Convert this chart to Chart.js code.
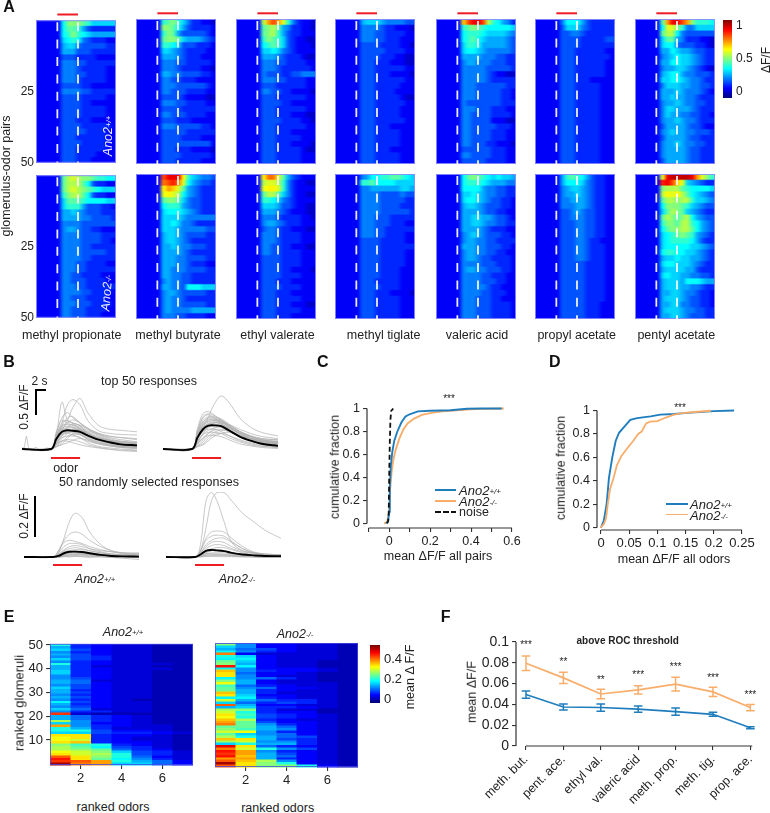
<!DOCTYPE html>
<html><head><meta charset="utf-8">
<script src="https://cdn.jsdelivr.net/npm/chart.js@4"></script>
<style>
html,body{margin:0;padding:0;background:#fff}
#page{position:relative;width:770px;height:813px;overflow:hidden;font-family:Arial,"Liberation Sans",sans-serif;color:#222}
canvas{position:absolute;display:block}
.t{position:absolute;white-space:nowrap;line-height:1;transform-origin:center}
.t sup{font-size:.62em;position:relative;top:-.1em;vertical-align:baseline;line-height:0}
.r{position:absolute}
</style></head><body><div id="page"></div>
<script>
// ---------- Panel A: heat-map rows (ΔF/F in steps of 0.05, base-36 digit; each row = 2 pairs; the 5 bins before onset are at baseline)
const wtMethylPropionate=["7aaa9866666","79985322222","78a87655555","67874322211","56643333322","55533322222","33322221111","44433222222","44432222211","44433222211","44432222211","33332211111","44443322222","33332222211","33332211111","33332222211","33332222211","33322211111","33332222221","33333222211","33322222211","33332222211","33322222211","33322221111","33322211111"];
const wtMethylButyrate=["89a86422110","aa975322221","8a953333321","9aa96555432","88763332221","66543222211","55543222111","44433222221","44432222110","55443333221","44332221111","44433333321","44333222211","33332111100","44433222211","33332222222","44333222211","33322211111","44433333221","33333222222","33332222111","33333333331","33322211110","33332222221","33322222111"];
const wtEthylValerate=["bfhfc842110","9ab95422110","9ab85322111","8a986321100","78986321110","66764321111","55543222100","44433222211","44432222221","43332233444","44433222211","33322222211","44332211110","33322222211","33332211111","33322222211","33322211100","33332222110","33322222211","33322211111","33322222111","33322211110","33322222100","33322222111","33322222111"];
const wtMethylTiglate=["56665444433","44443221110","44433222211","44433222111","33332222110","33333222211","33332221100","33322211100","33322222211","33322211110","33322222211","33322222111","33322221111","33322222100","33322222211","33322222111","33322222111","33322222211","33322211111","33322222111","33322222111","33322222111","33322211111","33322222111","33322222111"];
const wtValericAcid=["ehjjhb87542","89a98777776","78887666654","78976555543","68875555543","67765444443","55554443322","45544433322","44444333332","44444321100","44444322222","44433333322","44433333221","44433333221","43333333222","44433322211","44333322221","44333311100","44333332221","44333322211","44333322211","44333221110","33333322211","44333322211","33333222211"];
const wtPropylAcetate=["47775322222","36664322222","33443222222","33332222233","33332222222","33322222211","33322222221","33322222211","33322222211","33322222211","33322211111","33322222111","33322222111","33322222111","33322222111","33322222111","33322222111","33322222111","33322222111","33322222111","33322222111","33322222111","33322222111","33322222111","33322222111"];
const wtPentylAcetate=["9fjjhfa8887","7cca8446666","9bb74333333","69954222110","67743332210","55765543322","45676654322","55776654322","45566543210","56775443332","66776544322","46665544332","55565444321","55655443222","45565443322","46655543222","46554433221","45565443222","35555433211","45655443332","35555433222","45565443322","45555433222","45555433222","35555433222"];
const koMethylPropionate=["9bcbaa98877","9bbb9732211","9bcba987666","8abb9732211","69998777766","68885333221","55654333222","55554433332","44443333333","45543322111","44443333222","44443333221","44443322222","44443333322","44443322222","44433222211","44433222222","44332222111","44333222211","44433222222","44443322221","44333222211","44433322221","44333222211","44333222111"];
const koMethylButyrate=["hjjjd865443","ghigc754332","dfec9543222","cdcb7543222","9aa96433222","78885433222","67776543222","66665444444","66764432222","66654444433","56654333322","56654322222","55654433322","55554322222","55544333322","55544322211","55444333322","55443322222","45443322222","55443777666","45543333322","45443222222","45443333322","45444455555","44433222211"];
const koEthylValerate=["dggc9532111","bccb8421100","cddc8421111","9bb96421100","88764321111","66653321100","55543211100","44432222110","45543222111","34432211100","44432222111","44432222111","44332211100","44332222111","33332222111","33332222111","33332211110","33332222111","33322211111","33332222111","33322211111","33322222111","33322211100","33322222111","33322211111"];
const koMethylTiglate=["45778899876","88977776666","44555555665","44443333433","44443333322","44443333222","44443333332","44433322222","44433322211","44433222222","44433222211","33332222211","33332222222","33332222211","33332222211","33332222211","33332222111","33332222111","33322222111","33332222111","33322211110","33322222111","33322222111","33322222111","33322222111"];
const koValericAcid=["79a98767665","78887655544","77775443322","66765443322","67765433221","56654333221","55554332211","55665543321","55665443322","55554322211","45654333221","45544332222","55544333221","45544332211","45543322221","44443332221","45544333221","44443322211","44443332211","44444322111","44443322211","44433322111","44433322221","44433322221","44433322221"];
const koPropylAcetate=["58987532211","57776432211","45665432211","45565432211","44555432211","44455432211","33454332211","33444332211","33344332211","33344332211","33344332211","33344322111","33344322211","33344322211","33344322211","33333222211","33333222211","33333222211","33333222211","33333222211","33333222211","33333222211","33333222111","33333222111","33333222111"];
const koPentylAcetate=["cjkkkkjfca8","ijhec654322","abbb9877776","bdcdb976543","9bbabb86654","7aaa9865433","69ba9654322","9ba9ab75433","8aa9bb87543","79aabb97543","6789a985432","67888875322","67777766543","78877665432","56676655432","67766654322","56666553222","67665544332","56665777655","56665544322","55665443221","56665433221","55664433221","56665443322","55665433322"];
const odorNames=["methyl propionate","methyl butyrate","ethyl valerate","methyl tiglate","valeric acid","propyl acetate","pentyl acetate"];
const panelTicksA=[25,50];
const stimBins=[4.27,8.4];

// ---------- Panel B: traces (ΔF/F), one row per response
const tB=[0,5.3,6.3,7.3,8.3,9.3,10.6,12,14,16,18,21];
const top50WtMean=[0,0,.2,.33,.36,.35,.33,.26,.18,.13,.09,.07];
const top50WtTraces=[[0,0,.25,.45,.6,.62,.5,.38,.3,.25,.22,.18],[0,0,.3,.9,.55,.5,.45,.3,.22,.17,.14,.12],[0,0,.15,.35,.55,.8,.97,.7,.45,.38,.36,.33],[0,0,.2,.5,.85,.95,.85,.55,.35,.3,.28,.27],[0,0,.3,.6,.7,.6,.5,.4,.3,.22,.18,.14],[0,0,.28,.45,.47,.46,.42,.32,.2,.15,.1,.07],[0,0,.22,.4,.44,.42,.36,.28,.18,.12,.08,.05],[0,0,.18,.32,.4,.4,.36,.3,.22,.16,.11,.08],[0,0,.2,.3,.32,.31,.28,.2,.12,.08,.05,.03],[0,0,.1,.2,.3,.35,.33,.26,.18,.12,.09,.05],[0,0,.12,.22,.25,.25,.22,.15,.1,.06,.04,.02],[0,0,.05,.1,.2,.3,.32,.24,.16,.1,.06,.03],[0,0,.04,.08,.12,.17,.2,.17,.1,.06,.03,.01],[0,0,.15,.28,.3,.27,.22,.12,.05,.02,0,-.02],[0,0,.1,.16,.18,.17,.14,.08,.03,0,-.03,-.05],[0,0,.3,.38,.37,.35,.3,.25,.2,.17,.15,.13],[0,0,.35,.55,.5,.45,.4,.28,.2,.16,.13,.1],[0,0,.08,.15,.15,.12,.08,.05,.02,-.01,-.02,-.03],[0,0,.25,.42,.52,.5,.44,.35,.28,.24,.22,.2],[0,0,.2,.38,.5,.56,.5,.4,.28,.2,.15,.11],[.02,-.02,.1,.25,.32,.36,.38,.33,.24,.17,.12,.09],[0,.01,.16,.3,.42,.48,.46,.38,.26,.18,.12,.1],[0,0,.24,.36,.42,.42,.38,.3,.2,.13,.09,.06],[0,0,.16,.28,.36,.38,.36,.3,.21,.15,.11,.09],[0,0,.13,.26,.34,.34,.3,.22,.14,.09,.06,.04],[0,0,.22,.34,.36,.33,.28,.18,.1,.06,.03,.01],[0,0,.06,.14,.24,.28,.27,.2,.13,.08,.05,.03],[0,0,.27,.5,.55,.48,.38,.26,.17,.12,.1,.08]];
const top50WtSpikeT=[0,.4,.8,1.2,1.8,2.5,3.5,4.5,5.3];
const top50WtSpike=[0,.03,.25,.03,-.02,.03,-.03,.02,0];
const top50KoMean=[0,0,.22,.38,.45,.455,.44,.36,.24,.16,.1,.06];
const top50KoTraces=[[0,0,.2,.4,.62,.85,1.02,.9,.6,.42,.32,.25],[0,0,.4,.68,.72,.66,.55,.42,.3,.2,.15,.12],[0,0,.35,.62,.68,.64,.56,.45,.3,.2,.14,.1],[0,0,.3,.55,.62,.62,.58,.48,.34,.24,.18,.13],[0,0,.32,.52,.58,.56,.5,.38,.25,.16,.1,.06],[0,0,.25,.45,.52,.55,.52,.42,.28,.2,.15,.11],[0,0,.28,.42,.48,.48,.44,.36,.24,.15,.1,.06],[0,0,.2,.38,.46,.5,.48,.38,.26,.18,.12,.08],[0,0,.18,.34,.42,.44,.42,.34,.24,.16,.1,.07],[0,0,.14,.28,.36,.4,.42,.36,.26,.18,.12,.08],[0,0,.1,.22,.3,.36,.38,.34,.25,.18,.13,.1],[0,0,.06,.14,.24,.32,.36,.34,.26,.2,.15,.12],[0,0,.04,.08,.16,.24,.3,.32,.26,.2,.16,.13],[0,0,.22,.34,.38,.38,.34,.26,.16,.1,.06,.03],[0,0,.16,.28,.32,.32,.3,.22,.14,.08,.05,.03],[0,0,.12,.2,.26,.26,.24,.18,.1,.06,.03,.01],[0,0,.26,.46,.54,.56,.54,.46,.34,.26,.2,.18],[0,0,.3,.5,.6,.6,.56,.48,.38,.3,.24,.2],[0,0,.05,.1,.2,.28,.3,.26,.18,.12,.08,.05],[0,0,.24,.4,.5,.52,.48,.4,.3,.24,.2,.17],[0,0,.2,.36,.44,.46,.46,.4,.3,.22,.16,.14],[0,0,.34,.6,.66,.6,.5,.36,.24,.17,.12,.08],[0,0,.27,.48,.56,.58,.54,.44,.3,.2,.14,.1],[0,0,.23,.42,.48,.52,.5,.44,.33,.24,.17,.12],[0,0,.12,.3,.42,.5,.52,.46,.34,.24,.18,.15],[0,0,.08,.18,.3,.4,.46,.42,.32,.24,.18,.13]];
const rand50WtMean=[0,0,.005,.018,.025,.026,.024,.018,.01,.005,.003,.002];
const rand50WtTraces=[[0,0,.02,.09,.17,.21,.19,.12,.06,.03,.02,.01],[0,0,.03,.08,.11,.12,.11,.08,.05,.03,.02,.015],[0,0,.03,.07,.08,.075,.065,.05,.035,.025,.015,.01],[0,0,.02,.05,.065,.065,.06,.04,.025,.015,.01,.01],[0,0,.015,.035,.05,.055,.05,.04,.03,.025,.02,.02],[0,0,.01,.03,.04,.045,.04,.03,.02,.015,.01,.005],[0,0,.01,.025,.03,.035,.035,.03,.02,.012,.008,.005],[0,0,.008,.02,.025,.03,.028,.022,.015,.01,.012,.015],[0,0,.005,.015,.02,.022,.02,.016,.01,.005,.002,0],[0,0,.004,.01,.014,.015,.015,.012,.008,.004,.002,-.002],[0,0,.002,.006,.008,.01,.01,.006,.004,.002,0,-.004],[0,0,0,.003,.005,.005,.004,.002,0,-.002,-.006,-.012],[0,0,.001,.002,.004,.006,.006,.005,.003,.001,.002,.001],[0,.002,-.002,.002,0,.003,.001,-.002,.002,-.002,.001,-.002],[0,0,.006,.012,.018,.018,.016,.012,.009,.007,.006,.004],[0,0,.003,.008,.012,.012,.013,.01,.006,.005,.004,.003]];
const rand50KoMean=[0,0,.012,.03,.034,.032,.028,.02,.012,.008,.005,.004];
const rand50KoTraces=[[0,0,.06,.27,.31,.27,.17,.07,.03,.015,.01,.005],[0,0,.03,.14,.27,.31,.31,.27,.21,.17,.13,.09],[0,0,.03,.09,.12,.125,.12,.09,.05,.025,.015,.01],[0,0,.03,.08,.1,.105,.1,.075,.04,.02,.012,.01],[0,0,.02,.06,.08,.09,.09,.07,.04,.02,.012,.008],[0,0,.02,.05,.07,.075,.07,.05,.03,.02,.01,.005],[0,0,.015,.04,.055,.06,.055,.04,.025,.02,.015,.01],[0,0,.01,.03,.04,.045,.045,.035,.02,.01,.006,.004],[0,0,.01,.02,.03,.03,.03,.02,.012,.006,.004,.002],[0,0,.005,.015,.02,.02,.02,.014,.008,.004,.002,0],[0,0,.004,.01,.012,.012,.012,.008,.004,.002,0,0],[0,0,.002,.005,.006,.006,.006,.004,.002,0,0,0],[0,.002,0,.003,.002,.003,.001,.002,0,.001,-.001,0],[0,0,.008,.016,.016,.015,.014,.01,.006,.004,.003,.002],[0,0,.003,.008,.009,.009,.008,.006,.003,.001,0,-.002]];

// ---------- Panel C
const cWtX=[-.015,-.005,0,.003,.008,.015,.025,.04,.06,.08,.1,.14,.2,.3,.38,.45,.55];
const cWtY=[0,.02,.1,.3,.5,.62,.72,.8,.88,.93,.95,.975,.98,.985,.998,1,1];
const cKoX=[-.025,-.01,0,.005,.012,.02,.03,.05,.07,.09,.12,.16,.2,.26,.33,.42,.56];
const cKoY=[0,.01,.1,.3,.45,.55,.63,.74,.82,.87,.91,.945,.96,.975,.985,.995,1];
const cNoiseX=[-.01,-.005,-.002,0,.003,.006,.01,.02];
const cNoiseY=[0,.02,.1,.4,.7,.9,.98,1];
// ---------- Panel D
const dWtX=[0,.005,.01,.014,.02,.026,.032,.043,.052,.064,.088,.105,.13,.153,.2,.236];
const dWtY=[0,.06,.2,.42,.6,.74,.81,.87,.92,.935,.95,.965,.97,.98,.995,1];
const dKoX=[-.001,.005,.009,.012,.016,.022,.028,.036,.047,.057,.066,.072,.08,.087,.1,.115,.127,.14,.16,.195];
const dKoY=[0,.03,.08,.2,.33,.42,.53,.61,.68,.74,.8,.82,.89,.905,.91,.94,.96,.975,.985,.998];
// ---------- Panel E (mean ΔF/F in steps of 0.02, base-36 digit; top row first, columns = ranked odors)
const eWt=["a321100","7321100","8421100","6321100","7421100","6431100","8431100","6321100","a321110","7311100","7321110","8321100","8321100","6321100","6421100","7511100","7521100","6421100","8421100","7321100","7421100","6321100","7421100","6321000","9421100","7321100","6421100","8511100","6331100","m100000","7532100","7532100","e632100","8622100","j632110","a731110","aa42210","8843321","hh32210","gh32110","gf32110","hi32210","dba3210","ec94310","edc5320","gfd8431","hfea431","lhda521","nhc9631","mlja752","qkj8852"];
const eKo=["d622110","8622110","7542110","9632110","k211110","a821110","9921110","c821100","d721100","n921100","9622210","i632210","h522100","h621100","9653100","d721100","g721110","b532110","c652210","c732110","i731110","h822110","9932110","f753310","8534310","l722110","7833210","ed31100","fa32200","hb43210","ga43210","ie32110","jc42210","kc63210","cc75210","db76210","fg63210","c865210","ea75410","ih74310","ef66310","8a77310","oh53210","kfa6410","nj63210","mj74210","ni75210","jj73210","lie6210","qhda210","lhdda20"];
// ---------- Panel F
const fOdors=["meth. but.","pent. ace.","ethyl val.","valeric acid","meth. prop.","meth. tig.","prop. ace."];
const fKoMean=[.0795,.0655,.05,.054,.0595,.052,.037];
const fKoErr=[.007,.0055,.0045,.004,.0065,.0045,.003];
const fWtMean=[.0495,.0375,.037,.0355,.033,.0305,.0175];
const fWtErr=[.0035,.003,.0035,.003,.0035,.002,.001];
const fStars=["***","**","**","***","***","***","***"];
const fStarY=[.098,.082,.065,.0695,.0775,.0665,.05];

const BLUE='#1f7dbd',ORANGE='#f8ad6a',RED='#ee1c25',INK='#222';
const page=document.getElementById('page');
function T(html,x,y,o={}){const d=document.createElement('div');d.className='t';d.innerHTML=html;
 d.style.left=x+'px';d.style.top=y+'px';d.style.fontSize=(o.size||12)+'px';
 if(o.italic)d.style.fontStyle='italic'; if(o.bold)d.style.fontWeight='bold'; if(o.color)d.style.color=o.color;
 const tx=o.align==='left'?'0':'-50%';
 d.style.transform=`translate(${tx},-50%) rotate(${o.rot||0}deg)`;
 page.appendChild(d);}
function R(x,y,w,h,c='#000'){const d=document.createElement('div');d.className='r';
 d.style.cssText+=`left:${x}px;top:${y}px;width:${w}px;height:${h}px;background:${c}`;page.appendChild(d);}

function jet(p){const c=v=>Math.round(255*Math.max(0,Math.min(1,v)));
 return [c(1.5-Math.abs(4*p-3)),c(1.5-Math.abs(4*p-2)),c(1.5-Math.abs(4*p-1))];}

Chart.defaults.animation=false;
Chart.defaults.font.family='Arial, "Liberation Sans", sans-serif';
Chart.defaults.color=INK;
Chart.defaults.plugins.legend.display=false;
Chart.defaults.plugins.tooltip.enabled=false;
Chart.defaults.elements.point.radius=0;

Chart.register({id:'heat',beforeDatasetsDraw(chart,_,o){ if(o.hi===undefined)return;
 const d=chart.data.datasets[0].data,sx=chart.scales.x,sy=chart.scales.y,ctx=chart.ctx,span=h=>(h-o.lo)/(o.hi-o.lo);
 if(o.smooth){const off=document.createElement('canvas');off.width=o.nx;off.height=o.ny;const oc=off.getContext('2d');const im=oc.createImageData(o.nx,o.ny);
  for(const c of d){const i=(c.row*o.nx+c.col)*4,k=jet(span(c.v));im.data[i]=k[0];im.data[i+1]=k[1];im.data[i+2]=k[2];im.data[i+3]=255;}
  oc.putImageData(im,0,0);
  const tall=document.createElement('canvas');tall.width=o.nx;tall.height=o.ny*4;const tc=tall.getContext('2d');tc.imageSmoothingEnabled=false;tc.drawImage(off,0,0,o.nx,o.ny*4);
  ctx.save();ctx.imageSmoothingEnabled=true;ctx.imageSmoothingQuality='high';
  const a=chart.chartArea;ctx.beginPath();ctx.rect(a.left,a.top,a.right-a.left,a.bottom-a.top);ctx.clip();
  const x0=sx.getPixelForValue(0),x1=sx.getPixelForValue(o.nx),y0=sy.getPixelForValue(0),y1=sy.getPixelForValue(o.ny*o.rowSpan);
  ctx.drawImage(tall,x0,y0,x1-x0,y1-y0);ctx.restore();
 } else {
  for(const c of d){const k=jet(span(c.v));ctx.fillStyle=`rgb(${k})`;
   const x0=Math.round(sx.getPixelForValue(c.x-.5)*2)/2,x1=Math.round(sx.getPixelForValue(c.x+.5)*2)/2,y0=Math.round(sy.getPixelForValue(c.y+.5)*2)/2,y1=Math.round(sy.getPixelForValue(c.y-.5)*2)/2;
   ctx.fillRect(x0,y0,x1-x0+.5,y1-y0+.5);}
 }
 if(o.frame){const a=chart.chartArea;ctx.save();ctx.strokeStyle=o.frame;ctx.lineWidth=1;ctx.strokeRect(a.left+.5,a.top+.5,a.right-a.left-1,a.bottom-a.top-1);ctx.restore();}
}});
Chart.register({id:'stim',afterDatasetsDraw(chart,_,o){ if(!o.at)return;
 const ctx=chart.ctx,sx=chart.scales.x,sy=chart.scales.y,a=chart.chartArea;ctx.save();
 const p=o.at.map(v=>sx.getPixelForValue(v));
 if(o.dash){ctx.strokeStyle='rgba(255,255,255,.92)';ctx.lineWidth=1.8;ctx.setLineDash(o.dash);
  for(const x of p){ctx.beginPath();ctx.moveTo(x,a.top+2);ctx.lineTo(x,a.bottom);ctx.stroke();}ctx.setLineDash([]);}
 if(!o.noBar){const y=o.yValue!==undefined?sy.getPixelForValue(o.yValue):a.top+o.dy;
 ctx.strokeStyle=RED;ctx.lineWidth=2;ctx.beginPath();ctx.moveTo(p[0],y);ctx.lineTo(p[1],y);ctx.stroke();}ctx.restore();
}});
Chart.register({id:'cbar',beforeDatasetsDraw(chart,_,o){ if(o.hi===undefined)return;
 const ctx=chart.ctx,a=chart.chartArea,sy=chart.scales.y;
 for(let y=Math.floor(a.top);y<a.bottom;y++){const v=sy.getValueForPixel(y+.5),k=jet((v-sy.min)/(sy.max-sy.min));ctx.fillStyle=`rgb(${k})`;ctx.fillRect(a.left,y,a.right-a.left,1);}
}});
Chart.register({id:'spine',afterDraw(chart,_,o){ if(!o.x&&!o.y)return;
 const ctx=chart.ctx,a=chart.chartArea,sx=chart.scales.x,sy=chart.scales.y;ctx.save();ctx.strokeStyle='#333';ctx.lineWidth=1.2;
 if(o.x){ctx.beginPath();ctx.moveTo(sx.getPixelForValue(o.x[0]),a.bottom);ctx.lineTo(sx.getPixelForValue(o.x[1]),a.bottom);ctx.stroke();}
 if(o.y){ctx.beginPath();ctx.moveTo(a.left,sy.getPixelForValue(o.y[0]));ctx.lineTo(a.left,sy.getPixelForValue(o.y[1]));ctx.stroke();}
 ctx.restore();}});
Chart.register({id:'whisk',afterDatasetsDraw(chart,_,o){ if(!o.series)return;
 const ctx=chart.ctx,sx=chart.scales.x,sy=chart.scales.y;ctx.save();ctx.lineWidth=1.5;
 for(const s of o.series){ctx.strokeStyle=s.color;s.mean.forEach((m,i)=>{const x=sx.getPixelForValue(i),u=sy.getPixelForValue(m+s.err[i]),l=sy.getPixelForValue(m-s.err[i]);
  ctx.beginPath();ctx.moveTo(x,u);ctx.lineTo(x,l);ctx.moveTo(x-4.3,u);ctx.lineTo(x+4.3,u);ctx.moveTo(x-4.3,l);ctx.lineTo(x+4.3,l);ctx.stroke();});}
 ctx.restore();}});
Chart.register({id:'stars',afterDraw(chart,_,o){ if(!o.text)return;
 const ctx=chart.ctx,sx=chart.scales.x,sy=chart.scales.y;ctx.save();ctx.fillStyle=INK;ctx.font='10px Arial, "Liberation Sans"';ctx.textAlign='center';ctx.textBaseline='middle';
 o.text.forEach((t,i)=>ctx.fillText(t,sx.getPixelForValue(i),sy.getPixelForValue(o.y[i])+1.5));ctx.restore();}});

function make(px,py,pw,ph,m,cfg){const c=document.createElement('canvas');
 c.width=pw+m.l+m.r;c.height=ph+m.t+m.b;c.style.left=(px-m.l)+'px';c.style.top=(py-m.t)+'px';page.appendChild(c);
 cfg.options=Object.assign({responsive:false,maintainAspectRatio:false,devicePixelRatio:1},cfg.options||{});
 cfg.options.layout={padding:{left:m.hideY?m.l:0,top:m.t,right:m.r,bottom:m.hideX?m.b:0}};
 return new Chart(c,cfg);}
const tickVals=v=>s=>{s.ticks=v.map(value=>({value}));};
const lab=(v)=>String(+v.toFixed(3));
function xAxis(min,max,vals,labels,B,size,cb,rot){return {type:'linear',min,max,afterBuildTicks:tickVals(vals),afterFit:s=>{s.height=B;},
 border:{display:false},grid:{drawOnChartArea:false,drawTicks:true,tickLength:4,color:'#333',lineWidth:1.1},
 ticks:{autoSkip:false,maxRotation:rot||0,minRotation:rot||0,padding:2,font:{size},color:INK,callback:cb||(v=>labels.some(l=>Math.abs(l-v)<1e-6)?lab(v):'')}};}
function yAxis(min,max,vals,L,size){return {type:'linear',min,max,afterBuildTicks:tickVals(vals),afterFit:s=>{s.width=L;},
 border:{display:false},grid:{drawOnChartArea:false,drawTicks:true,tickLength:4,color:'#333',lineWidth:1.1},
 ticks:{autoSkip:false,padding:3,font:{size},color:INK,callback:v=>lab(v)}};}
const pairs=(xs,ys)=>xs.map((x,i)=>({x,y:ys[i]}));
const hidden=(min,max,rev)=>({type:'linear',display:false,min,max,reverse:!!rev});

// ---------- A
const panelX=[36,135.7,235.7,335.3,435.7,535,635.3];
const wtRows=[wtMethylPropionate,wtMethylButyrate,wtEthylValerate,wtMethylTiglate,wtValericAcid,wtPropylAcetate,wtPentylAcetate];
const koRows=[koMethylPropionate,koMethylButyrate,koEthylValerate,koMethylTiglate,koValericAcid,koPropylAcetate,koPentylAcetate];
function cellsA(rows){const out=[];rows.forEach((s,row)=>{[...s.padStart(16,'1')].forEach((ch,col)=>{out.push({x:col+.5,y:row*2+1,row,col,v:parseInt(ch,36)*.05});});});return out;}
function heatA(rows,px,py,first,red){const L=first?30:0;
 make(px,py,80.3,145.5,{l:L,t:8,r:0,b:8,hideX:true,hideY:!first},{type:'scatter',data:{datasets:[{data:cellsA(rows)}]},
 options:{scales:{x:hidden(0,16),y:first?{type:'linear',reverse:true,min:0,max:50,afterBuildTicks:tickVals(panelTicksA),afterFit:s=>{s.width=L;},border:{display:false},grid:{display:false,drawTicks:false},ticks:{padding:2,autoSkip:false,font:{size:12},color:INK,callback:v=>String(v)}}:hidden(0,50,true)},
 plugins:{heat:{lo:-.09,hi:1.08,smooth:true,nx:16,ny:25,rowSpan:2,frame:'rgba(140,140,255,.9)'},stim:{at:stimBins,dash:[9,8.4],dy:-5.7,noBar:!red}}}});}
panelX.forEach((x,i)=>{heatA(wtRows[i],x,18.7,i===0,true);heatA(koRows[i],x,174.2,i===0,false);});
function colorbar(px,py,pw,ph,lo,hi,vals,size,Rw){const c=document.createElement('canvas');c.width=pw+Rw;c.height=ph+16;c.style.left=px+'px';c.style.top=(py-8)+'px';page.appendChild(c);
 new Chart(c,{type:'scatter',data:{datasets:[{data:[]}]},options:{responsive:false,maintainAspectRatio:false,layout:{padding:{top:8,bottom:8}},
 scales:{x:hidden(0,1),y:{type:'linear',position:'right',min:lo,max:hi,afterBuildTicks:tickVals(vals),afterFit:s=>{s.width=Rw;},border:{display:false},grid:{display:false,drawTicks:false},ticks:{padding:4,autoSkip:false,font:{size},color:INK,callback:v=>lab(v)}}},plugins:{cbar:{hi,lo}}}});}
const cbarATicks=[0,.5,1];
colorbar(723,17,9,84.6,-.09,1.08,cbarATicks,12,30);
T('A',9,7,{bold:true,size:16,color:'#111'});
T('glomerulus-odor pairs',6,176,{rot:-90,size:12.5});
T('ΔF/F',766,60,{rot:-90,size:12});
const labelCx=[71.7,178,277.5,383.7,477,576.7,676.3];
odorNames.forEach((n,i)=>T(n,labelCx[i],334.5,{size:12.5}));
T('Ano2<sup>+/+</sup>',108,136,{rot:-90,italic:true,size:12.5,color:'#eef'});
T('Ano2<sup>-/-</sup>',107,293,{rot:-85,italic:true,size:12.5,color:'#eef'});

// ---------- B
function traces(px,baseY,pxPerUnit,mean,rows,redY,extra){const top=baseY-65,bot=baseY+15;
 const ymax=(baseY-top)/pxPerUnit,ymin=(baseY-bot)/pxPerUnit;
 const ds=[{data:pairs(tB,mean),showLine:true,borderColor:'#000',borderWidth:1.9,tension:.35,order:0}];
 rows.forEach(r=>ds.push({data:pairs(tB,r),showLine:true,borderColor:'#b0b0b0',borderWidth:.7,tension:.35,order:1}));
 if(extra)ds.push({data:extra,showLine:true,borderColor:'#b0b0b0',borderWidth:.7,tension:.2,order:1});
 make(px,top,115,bot-top,{l:0,t:0,r:0,b:0,hideX:true,hideY:true},{type:'scatter',data:{datasets:ds},options:{scales:{x:hidden(0,21),y:hidden(ymin,ymax)},plugins:{stim:{at:[5.3,10.6],yValue:-redY/pxPerUnit}}}});}
traces(22,448.7,52,top50WtMean,top50WtTraces,9,pairs(top50WtSpikeT,top50WtSpike));
traces(163,448.7,52,top50KoMean,top50KoTraces,9);
traces(24,557,208,rand50WtMean,rand50WtTraces,8);
traces(165.7,557,208,rand50KoMean,rand50KoTraces,8);
T('B',9,362,{bold:true,size:16,color:'#111'});
T('2 s',39.5,380.5,{size:12});
T('top 50 responses',149,380.5,{size:12.5});
T('0.5 ΔF/F',24,407,{rot:-90,size:12});
R(35,389,1.8,26);R(35,389,11,1.8);
T('odor',65.7,467.5,{size:12.5});
T('50 randomly selected responses',149,482,{size:12.5});
T('0.2 ΔF/F',24,515.7,{rot:-90,size:12});
R(34.2,495.7,2,41.7);
T('Ano2<sup>+/+</sup>',95,579,{italic:true,size:12.5});
T('Ano2<sup>-/-</sup>',237,579,{italic:true,size:12.5});

// ---------- C
make(367.3,407.7,145.4,120.3,{l:40,t:10,r:15,b:20},{type:'scatter',data:{datasets:[
 {data:pairs(cNoiseX,cNoiseY),showLine:true,borderColor:'#111',borderWidth:1.8,borderDash:[5,3],clip:false},
 {data:pairs(cWtX,cWtY),showLine:true,borderColor:BLUE,borderWidth:1.9,clip:false},
 {data:pairs(cKoX,cKoY),showLine:true,borderColor:ORANGE,borderWidth:1.9,clip:false}]},
 options:{scales:{x:xAxis(-.1083,.6,[-.1,0,.1,.2,.3,.4,.5,.6],[0,.2,.4,.6],20,12.5),y:yAxis(-.04,1,[0,.2,.4,.6,.8,1],40,12.5)},plugins:{spine:{x:[-.1,.6],y:[0,1]}}}});
T('C',317,362,{bold:true,size:16,color:'#111',align:'left'});
T('***',449,398.5,{size:10});
T('cumulative fraction',335,466.7,{rot:-90,size:12.5});
T('mean ΔF/F all pairs',438,555.7,{size:12.5});
R(435,489.2,21,1.8,BLUE);R(435,500,21,1.8,ORANGE);
R(435,511,6,1.8,'#111');R(443,511,6,1.8,'#111');R(451,511,5,1.8,'#111');
T('Ano2<sup>+/+</sup>',459,490,{italic:true,size:13,align:'left'});
T('Ano2<sup>-/-</sup>',459,500.5,{italic:true,size:13,align:'left'});
T('noise',459,511.5,{size:12.5,align:'left'});

// ---------- D
make(596.7,410,145,120,{l:40,t:10,r:15,b:20},{type:'scatter',data:{datasets:[
 {data:pairs(dKoX,dKoY),showLine:true,borderColor:ORANGE,borderWidth:1.8,clip:false},
 {data:pairs(dWtX,dWtY),showLine:true,borderColor:BLUE,borderWidth:1.9,clip:false}]},
 options:{scales:{x:xAxis(-.00709,.25,[0,.05,.1,.15,.2,.25],[0,.05,.1,.15,.2,.25],20,13),y:yAxis(-.02,1,[0,.2,.4,.6,.8,1],40,12.5)},plugins:{spine:{x:[0,.25],y:[0,1]}}}});
T('D',549,362,{bold:true,size:16,color:'#111',align:'left'});
T('***',680,407.5,{size:10});
T('cumulative fraction',561,468,{rot:-90,size:12.5});
T('mean ΔF/F all odors',674,559,{size:12.5});
R(666,503.2,22.3,1.8,BLUE);R(666,513.6,22.3,1.8,ORANGE);
T('Ano2<sup>+/+</sup>',690,504,{italic:true,size:13,align:'left'});
T('Ano2<sup>-/-</sup>',690,514.5,{italic:true,size:13,align:'left'});

// ---------- E
function cellsE(rows){const out=[];rows.forEach((s,i)=>{[...s].forEach((ch,c)=>{out.push({x:c+1,y:rows.length-1-i,v:parseInt(ch,36)*.02});});});return out;}
const eYTicks=[10,20,30,40,50],eXTicks=[2,4,6];
function heatE(rows,px,py,withY){make(px,py,143,124.4,{l:withY?30:0,t:8,r:0,b:18,hideY:!withY},{type:'scatter',data:{datasets:[{data:cellsE(rows)}]},
 options:{scales:{x:xAxis(.5,7.5,eXTicks,eXTicks,18,13),y:withY?yAxis(-.5,50.5,eYTicks,30,13):hidden(-.5,50.5)},plugins:{heat:{lo:-.03,hi:.54,frame:'rgba(70,70,230,.8)'}}}});}
heatE(eWt,49.7,641.3,true);heatE(eKo,215,643.3,false);
colorbar(370,641.7,10.7,64.3,-.03,.54,[0,.2,.4],13,28);
T('E',9,617,{bold:true,size:16,color:'#111'});
T('Ano2<sup>+/+</sup>',123,632,{italic:true,size:12.5});
T('Ano2<sup>-/-</sup>',295,634,{italic:true,size:12.5});
T('ranked glomeruli',19,703,{rot:-90,size:13});
T('ranked odors',113,807,{size:12.5});
T('ranked odors',277.7,808,{size:12.5});
T('mean Δ F/F',410,677,{rot:-90,size:12.5});

// ---------- F
make(515.7,642.3,236,104.7,{l:48,t:12,r:14,b:62},{type:'scatter',data:{datasets:[
 {data:fKoMean.map((y,x)=>({x,y})),showLine:true,borderColor:ORANGE,borderWidth:1.7,clip:false},
 {data:fWtMean.map((y,x)=>({x,y})),showLine:true,borderColor:BLUE,borderWidth:1.7,clip:false}]},
 options:{scales:{x:xAxis(-.267,6.043,[0,1,2,3,4,5,6],[],62,12.5,v=>fOdors[v],45),y:yAxis(0,.1,[0,.02,.04,.06,.08,.1],48,14)},
 plugins:{spine:{x:[0,6.05],y:[0,.1]},whisk:{series:[{mean:fKoMean,err:fKoErr,color:ORANGE},{mean:fWtMean,err:fWtErr,color:BLUE}]},stars:{text:fStars,y:fStarY}}}});
T('F',445.7,617,{bold:true,size:16,color:'#111'});
T('above ROC threshold',627.7,641,{bold:true,size:10});
T('mean ΔF/F',472,691.7,{rot:-90,size:12.5});
</script></body></html>
